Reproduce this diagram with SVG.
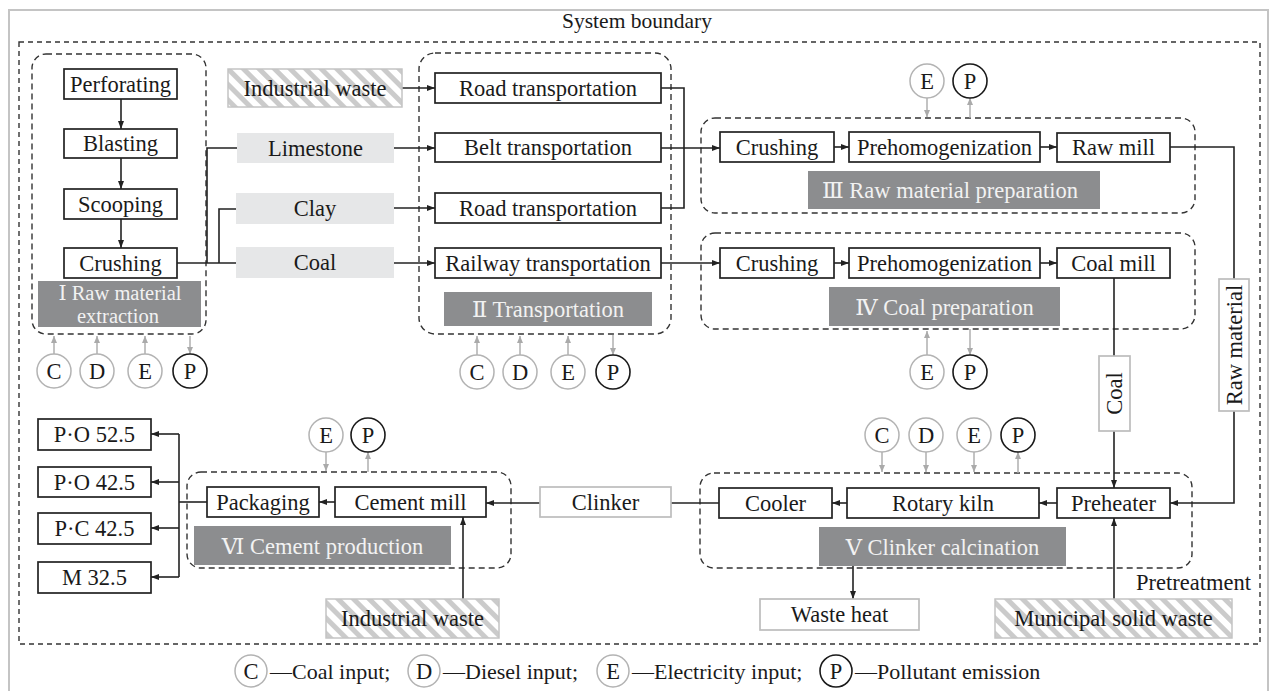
<svg xmlns="http://www.w3.org/2000/svg" width="1275" height="691" viewBox="0 0 1275 691">
<defs>
<style>
text{font-family:"Liberation Serif","DejaVu Serif","Noto Sans CJK SC",serif;font-size:22.5px;fill:#1a1a1a;text-anchor:middle}
.box{fill:#fff;stroke:#222;stroke-width:1.7}
.gbox{fill:#fff;stroke:#bdbdbd;stroke-width:1.7}
.mat{fill:#e6e7e8;stroke:none}
.hat{fill:url(#hatch);stroke:#c4c4c4;stroke-width:1.5}
.lab{fill:#8c8d8f;stroke:none}
.labt{fill:#f2f2f2}
.stage{fill:none;stroke:#333;stroke-width:1.4;stroke-dasharray:6 4}
.cg{fill:#fff;stroke:#b3b3b3;stroke-width:1.5}
.cb{fill:#fff;stroke:#1a1a1a;stroke-width:1.6}
.ln{fill:none;stroke:#222;stroke-width:1.6}
.la{fill:none;stroke:#222;stroke-width:1.6;marker-end:url(#ah)}
.ga{fill:none;stroke:#aaa;stroke-width:1.4;marker-end:url(#ahg)}
.st{text-anchor:start}
</style>
<marker id="ah" markerWidth="8" markerHeight="6" refX="8" refY="3" orient="auto" markerUnits="userSpaceOnUse"><path d="M0,0 L8,3 L0,6 z" fill="#222"/></marker>
<marker id="ahg" markerWidth="7" markerHeight="6" refX="7" refY="3" orient="auto" markerUnits="userSpaceOnUse"><path d="M0,0 L7,3 L0,6 z" fill="#aaa"/></marker>
<pattern id="hatch" width="11" height="11" patternUnits="userSpaceOnUse" patternTransform="rotate(-45)"><rect width="11" height="11" fill="#fff"/><rect width="5" height="11" fill="#cbcbcb"/></pattern>
</defs>

<rect x="9" y="10" width="1259" height="690" fill="#fff" stroke="#c4c4c4" stroke-width="2"/>
<text x="637" y="28" style="font-size:21.5px">System boundary</text>
<rect x="19" y="42" width="1241" height="602" fill="none" stroke="#333" stroke-width="1.4" stroke-dasharray="5 4"/>

<g id="stages">
<rect class="stage" x="32" y="54" width="174" height="280" rx="14"/>
<rect class="stage" x="419" y="53" width="252" height="281" rx="16"/>
<rect class="stage" x="701" y="118" width="494" height="95" rx="14"/>
<rect class="stage" x="701" y="233" width="494" height="96" rx="14"/>
<rect class="stage" x="700" y="473" width="492" height="95" rx="14"/>
<rect class="stage" x="187" y="472" width="324" height="96" rx="14"/>
</g>

<g id="connectors">
<path class="la" d="M121,99 V129"/>
<path class="la" d="M121,158 V189"/>
<path class="la" d="M121,219 V248"/>
<path class="ln" d="M177,263 H236"/>
<path class="ln" d="M207,263 V148 H237"/>
<path class="ln" d="M219,263 V209 H236"/>
<path class="la" d="M402,88 H435"/>
<path class="la" d="M394,148 H435"/>
<path class="la" d="M394,208 H435"/>
<path class="la" d="M394,263 H435"/>
<path class="ln" d="M661,88 H684 V208 H661"/>
<path class="la" d="M661,148 H720"/>
<path class="la" d="M661,263 H720"/>
<path class="la" d="M834,147 H849"/>
<path class="la" d="M1040,147 H1057"/>
<path class="la" d="M834,263 H849"/>
<path class="la" d="M1040,263 H1057"/>
<path class="ln" d="M1170,147 H1234 V279"/>
<path class="la" d="M1234,411 V503 H1170"/>
<path class="ln" d="M1114,278 V356"/>
<path class="la" d="M1114,431 V488"/>
<path class="la" d="M1057,503 H1039"/>
<path class="la" d="M847,503 H832"/>
<path class="ln" d="M719,503 H671"/>
<path class="la" d="M540,503 H486"/>
<path class="la" d="M335,502 H319"/>
<path class="ln" d="M207,502 H179"/>
<path class="ln" d="M179,434 V577"/>
<path class="la" d="M179,434 H151"/>
<path class="la" d="M179,482 H151"/>
<path class="la" d="M179,528 H151"/>
<path class="la" d="M179,577 H151"/>
<path class="la" d="M463,599 V517"/>
<path class="la" d="M1114,599 V518"/>
<path class="la" d="M853,566 V599"/>
<path class="ga" d="M54,354 V336"/>
<path class="ga" d="M97,354 V336"/>
<path class="ga" d="M145,354 V336"/>
<path class="ga" d="M190,336 V354"/>
<path class="ga" d="M477,355 V336"/>
<path class="ga" d="M520,355 V336"/>
<path class="ga" d="M568,355 V336"/>
<path class="ga" d="M613,335 V355"/>
<path class="ga" d="M927,98 V117"/>
<path class="ga" d="M970,118 V98"/>
<path class="ga" d="M927,355 V331"/>
<path class="ga" d="M970,329 V355"/>
<path class="ga" d="M882,452 V472"/>
<path class="ga" d="M926,452 V472"/>
<path class="ga" d="M974,452 V472"/>
<path class="ga" d="M1018,473 V452"/>
<path class="ga" d="M326,452 V471"/>
<path class="ga" d="M368,472 V452"/>
</g>

<g id="n-perforating"><rect class="box" x="64" y="69" width="113" height="30"/><text x="120.5" y="92">Perforating</text></g>
<g id="n-blasting"><rect class="box" x="64" y="129" width="113" height="29"/><text x="120.5" y="151">Blasting</text></g>
<g id="n-scooping"><rect class="box" x="64" y="189" width="113" height="30"/><text x="120.5" y="212">Scooping</text></g>
<g id="n-crushing1"><rect class="box" x="64" y="248" width="113" height="30"/><text x="120.5" y="271">Crushing</text></g>
<g id="l-stage1"><rect class="lab" x="38" y="281" width="163" height="46"/><text class="labt" style="font-size:20.5px"><tspan x="120" y="300">Ⅰ Raw material</tspan><tspan x="118" y="323">extraction</tspan></text></g>

<g id="n-indwaste1"><rect class="hat" x="228" y="69" width="174" height="38"/><text x="315" y="96">Industrial waste</text></g>
<g id="n-limestone"><rect class="mat" x="237" y="133" width="157" height="30"/><text x="315.5" y="156">Limestone</text></g>
<g id="n-clay"><rect class="mat" x="236" y="193" width="158" height="31"/><text x="315" y="216">Clay</text></g>
<g id="n-coal"><rect class="mat" x="236" y="247" width="158" height="31"/><text x="315" y="270">Coal</text></g>

<g id="n-road1"><rect class="box" x="435" y="73" width="226" height="30"/><text x="548" y="96">Road transportation</text></g>
<g id="n-belt"><rect class="box" x="435" y="133" width="226" height="29"/><text x="548" y="155">Belt transportation</text></g>
<g id="n-road2"><rect class="box" x="435" y="193" width="226" height="30"/><text x="548" y="216">Road transportation</text></g>
<g id="n-railway"><rect class="box" x="435" y="248" width="226" height="30"/><text x="548" y="271">Railway transportation</text></g>
<g id="l-stage2"><rect class="lab" x="444" y="292" width="208" height="34"/><text class="labt" x="548" y="317">Ⅱ Transportation</text></g>

<g id="n-crushing3"><rect class="box" x="720" y="132" width="114" height="30"/><text x="777" y="155">Crushing</text></g>
<g id="n-prehomo3"><rect class="box" x="849" y="132" width="191" height="30"/><text x="944.5" y="155">Prehomogenization</text></g>
<g id="n-rawmill"><rect class="box" x="1057" y="133" width="113" height="29"/><text x="1113.5" y="155">Raw mill</text></g>
<g id="l-stage3"><rect class="lab" x="808" y="171" width="292" height="38"/><text class="labt" x="950" y="198">Ⅲ Raw material preparation</text></g>

<g id="n-crushing4"><rect class="box" x="720" y="248" width="114" height="30"/><text x="777" y="271">Crushing</text></g>
<g id="n-prehomo4"><rect class="box" x="849" y="248" width="191" height="30"/><text x="944.5" y="271">Prehomogenization</text></g>
<g id="n-coalmill"><rect class="box" x="1057" y="248" width="113" height="30"/><text x="1113.5" y="271">Coal mill</text></g>
<g id="l-stage4"><rect class="lab" x="829" y="287" width="231" height="39"/><text class="labt" x="944.5" y="315">Ⅳ Coal preparation</text></g>

<g id="n-coallabel"><rect class="gbox" x="1099" y="356" width="31" height="75"/><text transform="rotate(-90 1114.5 393.5)" x="1114.5" y="401">Coal</text></g>
<g id="n-rawmaterial"><rect class="gbox" x="1219" y="279" width="30" height="132"/><text transform="rotate(-90 1234 345)" x="1234" y="352.5">Raw material</text></g>

<g id="n-cooler"><rect class="box" x="719" y="488" width="113" height="30"/><text x="775.5" y="511">Cooler</text></g>
<g id="n-kiln"><rect class="box" x="847" y="488" width="192" height="30"/><text x="943" y="511">Rotary kiln</text></g>
<g id="n-preheater"><rect class="box" x="1057" y="488" width="113" height="30"/><text x="1113.5" y="511">Preheater</text></g>
<g id="l-stage5"><rect class="lab" x="819" y="527" width="247" height="39"/><text class="labt" x="942.5" y="555">Ⅴ Clinker calcination</text></g>

<g id="n-clinker"><rect class="gbox" x="540" y="487" width="131" height="30"/><text x="605.5" y="510">Clinker</text></g>
<g id="n-wasteheat"><rect class="gbox" x="760" y="599" width="159" height="31"/><text x="839.5" y="622">Waste heat</text></g>
<g id="n-msw"><rect class="hat" x="995" y="599" width="237" height="39"/><text x="1113.5" y="626">Municipal solid waste</text></g>
<text x="1251" y="590" style="text-anchor:end">Pretreatment</text>

<g id="n-packaging"><rect class="box" x="207" y="487" width="112" height="30"/><text x="263" y="510">Packaging</text></g>
<g id="n-cementmill"><rect class="box" x="335" y="487" width="151" height="30"/><text x="410.5" y="510">Cement mill</text></g>
<g id="l-stage6"><rect class="lab" x="194" y="526" width="257" height="39"/><text class="labt" x="322.5" y="554">Ⅵ Cement production</text></g>
<g id="n-indwaste2"><rect class="hat" x="326" y="599" width="173" height="39"/><text x="412.5" y="626">Industrial waste</text></g>

<g id="n-po525"><rect class="box" x="38" y="419" width="113" height="31"/><text x="94.5" y="442">P·O 52.5</text></g>
<g id="n-po425"><rect class="box" x="38" y="467" width="113" height="30"/><text x="94.5" y="490">P·O 42.5</text></g>
<g id="n-pc425"><rect class="box" x="38" y="513" width="113" height="31"/><text x="94.5" y="536">P·C 42.5</text></g>
<g id="n-m325"><rect class="box" x="38" y="562" width="113" height="31"/><text x="94.5" y="585">M 32.5</text></g>

<g id="io-stage1">
<circle class="cg" cx="54" cy="371" r="17"/><text x="54" y="379">C</text>
<circle class="cg" cx="97" cy="371" r="17"/><text x="97" y="379">D</text>
<circle class="cg" cx="145" cy="371" r="17"/><text x="145" y="379">E</text>
<circle class="cb" cx="190" cy="371" r="17"/><text x="190" y="379">P</text>
</g>
<g id="io-stage2">
<circle class="cg" cx="477" cy="372" r="17"/><text x="477" y="380">C</text>
<circle class="cg" cx="520" cy="372" r="17"/><text x="520" y="380">D</text>
<circle class="cg" cx="568" cy="372" r="17"/><text x="568" y="380">E</text>
<circle class="cb" cx="613" cy="372" r="17"/><text x="613" y="380">P</text>
</g>
<g id="io-stage3">
<circle class="cg" cx="927" cy="81" r="17"/><text x="927" y="89">E</text>
<circle class="cb" cx="970" cy="81" r="17"/><text x="970" y="89">P</text>
</g>
<g id="io-stage4">
<circle class="cg" cx="927" cy="372" r="17"/><text x="927" y="380">E</text>
<circle class="cb" cx="970" cy="372" r="17"/><text x="970" y="380">P</text>
</g>
<g id="io-stage5">
<circle class="cg" cx="882" cy="435" r="17"/><text x="882" y="443">C</text>
<circle class="cg" cx="926" cy="435" r="17"/><text x="926" y="443">D</text>
<circle class="cg" cx="974" cy="435" r="17"/><text x="974" y="443">E</text>
<circle class="cb" cx="1018" cy="435" r="17"/><text x="1018" y="443">P</text>
</g>
<g id="io-stage6">
<circle class="cg" cx="326" cy="435" r="17"/><text x="326" y="443">E</text>
<circle class="cb" cx="368" cy="435" r="17"/><text x="368" y="443">P</text>
</g>

<g id="legend">
<circle class="cg" cx="251" cy="671" r="16"/><text x="251" y="679">C</text>
<text class="st" x="270" y="679" style="font-size:22px">—Coal input;</text>
<circle class="cg" cx="424" cy="671" r="16"/><text x="424" y="679">D</text>
<text class="st" x="443" y="679" style="font-size:22px">—Diesel input;</text>
<circle class="cg" cx="613" cy="671" r="16"/><text x="613" y="679">E</text>
<text class="st" x="632" y="679" style="font-size:22px">—Electricity input;</text>
<circle class="cb" cx="836" cy="671" r="16"/><text x="836" y="679">P</text>
<text class="st" x="855" y="679" style="font-size:22px">—Pollutant emission</text>
</g>
</svg>
